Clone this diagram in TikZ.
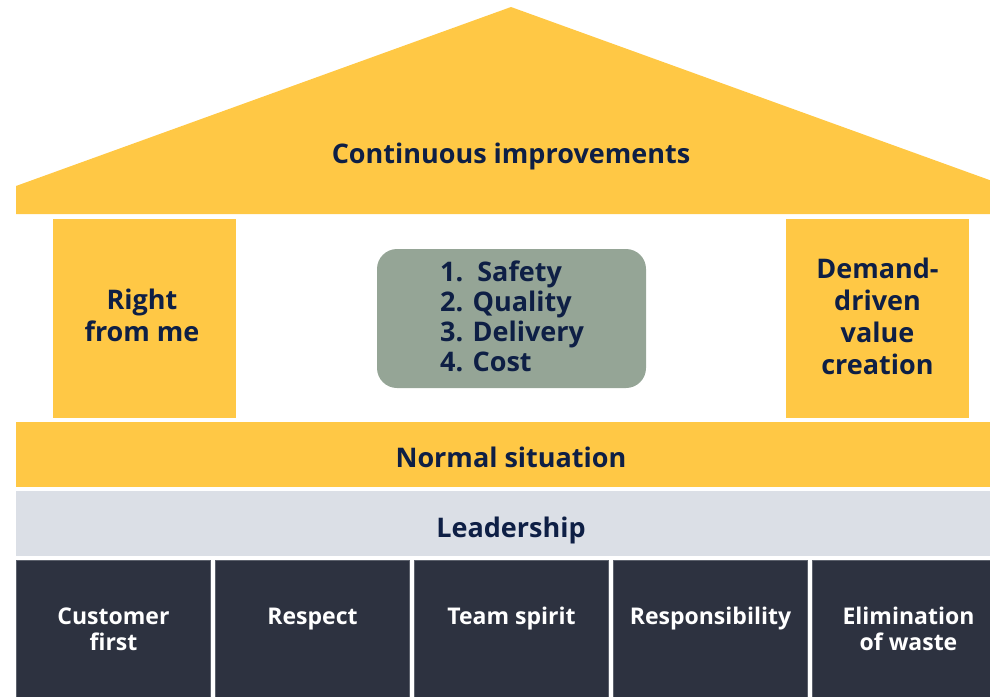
\documentclass[tikz,border=0pt]{standalone}
\usepackage{fontspec}
\setmainfont{Open Sans}
\definecolor{yel}{HTML}{FFC845}
\definecolor{navy}{HTML}{0E1F45}
\definecolor{sage}{HTML}{95A596}
\definecolor{lead}{HTML}{DBDFE6}
\definecolor{darkb}{HTML}{2D3240}
\definecolor{darkedge}{HTML}{5C616C}
\tikzset{
  lbl/.style={text=navy, font=\bfseries\fontsize{27}{31.8}\selectfont, align=center, anchor=base, inner sep=0pt},
  goal/.style={text=navy, font=\bfseries\fontsize{27}{30}\selectfont, anchor=base west, inner sep=0pt},
  pillar/.style={fill=yel, inner sep=0pt, outer sep=0pt, minimum width=183pt, minimum height=199pt},
  band/.style={inner sep=0pt, outer sep=0pt, minimum width=990pt, minimum height=65pt},
  basebox/.style={fill=darkb, draw=darkedge, line width=0.8pt, inner sep=0pt, outer sep=0pt, minimum width=194pt, minimum height=140pt},
  basetxt/.style={text=white, font=\bfseries\fontsize{23}{26}\selectfont, align=center, anchor=base, inner sep=0pt}
}
\begin{document}
\begin{tikzpicture}[x=1pt,y=-1pt]
\useasboundingbox (0,0) rectangle (990,696);
\clip (0,0) rectangle (990,696);
% roof
\fill[yel] (16,186) -- (511,7) -- (1006,186) -- (1006,214) -- (16,214) -- cycle;
\node[lbl] (roof) at (511,163) {Continuous improvements};
% pillars
\node[pillar] (left) at (144.5,318.5) {};
\node[lbl] (lefttxt) at (142,341) {Right\\from me};
\node[pillar] (right) at (877.5,318.5) {};
\node[lbl] (righttxt) at (877.5,374) {Demand-\\driven\\value\\creation};
% center
\node[fill=sage, rounded corners=20pt, minimum width=269pt, minimum height=139pt, inner sep=0pt] (goals) at (511.5,318.5) {};
\node[goal] (g1) at (440,281) {1.\ \ Safety};
\node[goal] (g2) at (440,311) {2. Quality};
\node[goal] (g3) at (440,341) {3. Delivery};
\node[goal] (g4) at (440,371) {4. Cost};
% bands
\node[band, fill=yel] (normal) at (511,454.5) {};
\node[lbl] (normaltxt) at (511,467) {Normal situation};
\node[band, fill=lead] (leadership) at (511,523.5) {};
\node[lbl] (leadtxt) at (511,537) {Leadership};
% base boxes
\node[basebox] (b1) at (113.5,630) {};
\node[basebox] (b2) at (312.5,630) {};
\node[basebox] (b3) at (511.5,630) {};
\node[basebox] (b4) at (710.5,630) {};
\node[basebox] (b5) at (909.5,630) {};
\node[basetxt] (t1) at (113.5,650) {Customer\\first};
\node[basetxt] (t2) at (312.5,624) {Respect};
\node[basetxt] (t3) at (511.5,624) {Team spirit};
\node[basetxt] (t4) at (710.5,624) {Responsibility};
\node[basetxt] (t5) at (908.5,650) {Elimination\\of waste};
\end{tikzpicture}
\end{document}
